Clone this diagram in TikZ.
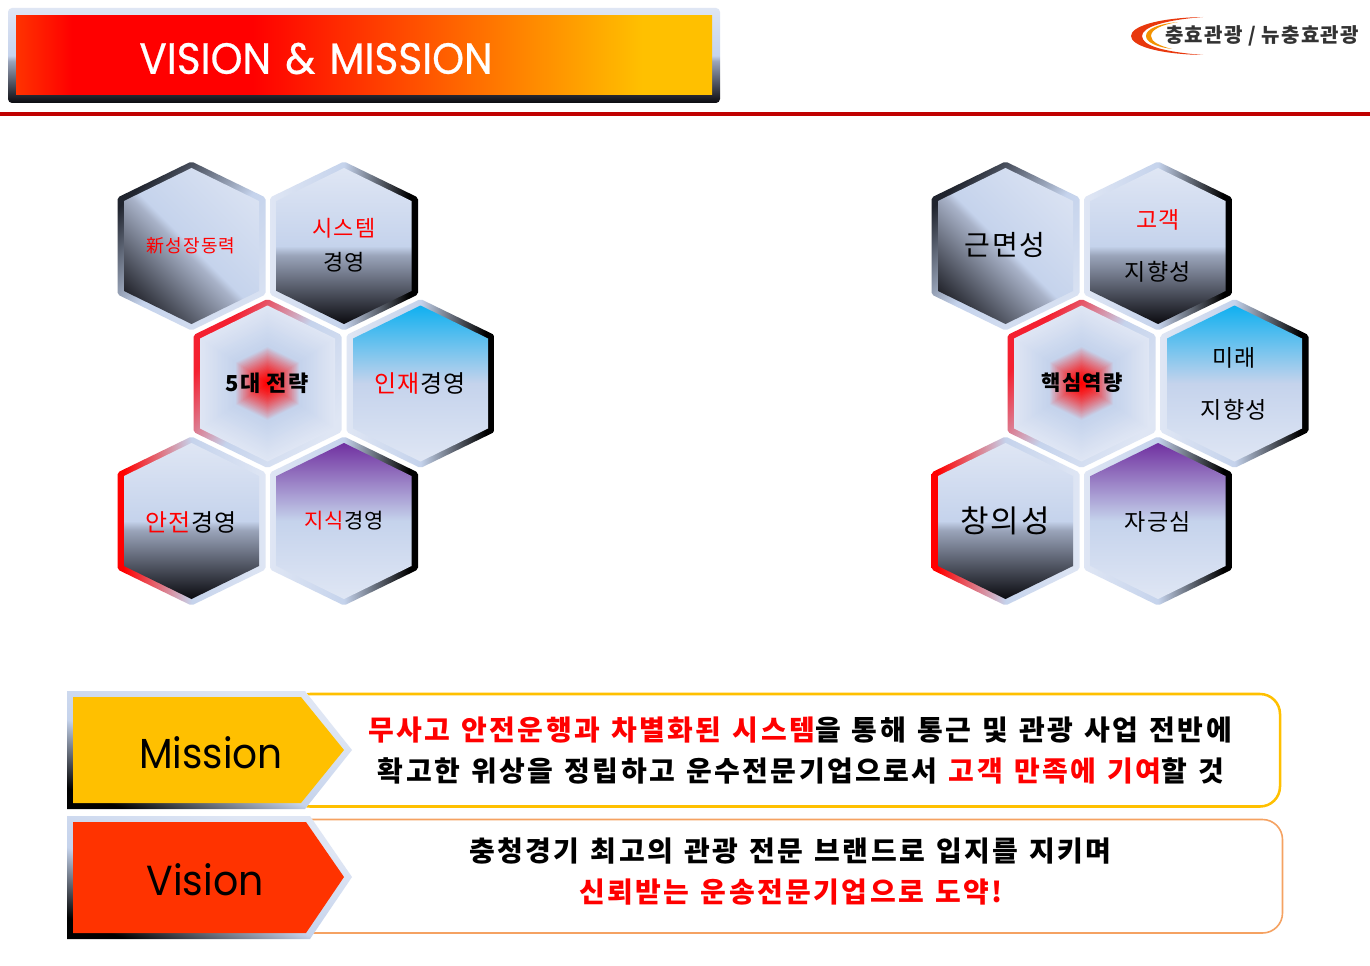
\documentclass[tikz,border=0pt]{standalone}
\usepackage{fontspec}
\setmainfont{Noto Sans CJK KR}
\newfontfamily\latinf{Poppins}
\newfontfamily\latinb[FakeBold=0.6]{Poppins}
\newfontfamily\krb[LetterSpace=8.7,WordSpace=1.27]{Noto Sans CJK KR}
\definecolor{hl}{HTML}{DFE6F4}
\definecolor{hm}{HTML}{C5D3EC}
\definecolor{hdk}{HTML}{0A0A0F}
\definecolor{hgr}{HTML}{9AA4BA}
\definecolor{hgs}{HTML}{A8B2C8}
\definecolor{hed}{HTML}{20242E}
\definecolor{sky}{HTML}{0FB0F0}
\definecolor{purp}{HTML}{7030A0}
\definecolor{rrd}{HTML}{FF0000}
\definecolor{rbd}{HTML}{F42030}
\definecolor{orr}{HTML}{FF3300}
\definecolor{gold}{HTML}{FFC000}
\definecolor{rule}{HTML}{C00000}
\definecolor{peach}{HTML}{F5A262}
\definecolor{logor}{HTML}{E8380D}
\definecolor{logoo}{HTML}{F39200}
\definecolor{logot}{HTML}{333333}
\pgfdeclareverticalshading{fdark}{100bp}{color(0bp)=(hdk); color(25bp)=(hdk); color(47bp)=(hgr); color(50bp)=(hm); color(75bp)=(hl); color(100bp)=(hl)}
\pgfdeclareverticalshading{fsky}{100bp}{color(0bp)=(hl); color(25bp)=(hl); color(50bp)=(hm); color(75bp)=(sky); color(100bp)=(sky)}
\pgfdeclareverticalshading{fpurp}{100bp}{color(0bp)=(hl); color(25bp)=(hl); color(50bp)=(hm); color(75bp)=(purp); color(100bp)=(purp)}
\pgfdeclarehorizontalshading{bright}{100bp}{color(0bp)=(hl); color(25bp)=(hl); color(50bp)=(hm); color(72bp)=(black); color(100bp)=(black)}
\pgfdeclarehorizontalshading{bred}{100bp}{color(0bp)=(rrd); color(27bp)=(rrd); color(50bp)=(hm); color(75bp)=(hl); color(100bp)=(hl)}
\pgfdeclarehorizontalshading{bredc}{100bp}{color(0bp)=(rbd); color(29bp)=(rbd); color(50bp)=(hm); color(75bp)=(hl); color(100bp)=(hl)}
\pgfdeclarehorizontalshading{bdark}{100bp}{color(0bp)=(hed); color(25bp)=(hed); color(52bp)=(hm); color(85bp)=(hl); color(100bp)=(hl)}
\pgfdeclarehorizontalshading{fdiag}{100bp}{color(0bp)=(black); color(18bp)=(hdk); color(47bp)=(hgs); color(50bp)=(hm); color(85bp)=(hl); color(100bp)=(hl)}
\pgfdeclarehorizontalshading{arrb}{100bp}{color(0bp)=(black); color(24bp)=(black); color(44bp)=(hm); color(70bp)=(hl); color(100bp)=(hl)}
\pgfdeclarehorizontalshading{headf}{100bp}{color(0bp)=(orr); color(25bp)=(orr); color(29bp)=(rrd); color(42bp)=(rrd); color(70bp)=(gold); color(100bp)=(gold)}
\tikzset{
  x=0.75pt,y=-0.75pt,
  every node/.style={inner sep=0pt,outer sep=0pt,align=center,text=black},
}
\newcommand\hexo{(0,-84.5)--(74,-48.5)--(74,48.5)--(0,84.5)--(-74,48.5)--(-74,-48.5)--cycle}
\newcommand\hexi{(0,-78)--(67.5,-45)--(67.5,45)--(0,78)--(-67.5,45)--(-67.5,-45)--cycle}
% #1 x, #2 y, #3 border shading, #4 border angle, #5 fill shading, #6 fill angle
\newcommand\hexa[6]{\begin{scope}[shift={(#1,#2)}]
  \shade[shading=#3,shading angle=#4,rounded corners=1.5pt] \hexo;
  \shade[shading=#5,shading angle=#6] \hexi;
\end{scope}}
\newcommand\hexc[4]{\begin{scope}[shift={(#1,#2)}]
  \shade[shading=#3,shading angle=#4,rounded corners=1.5pt] \hexo;
  \foreach \s in {100,98,...,50}{
    \pgfmathtruncatemacro\p{(100-\s)*2}
    \fill[color=hm!\p!hl,scale=\s/100] \hexi;}
  \foreach \s in {48,47,...,0}{
    \pgfmathtruncatemacro\p{100*(1-(\s/48)^1.4)}
    \fill[color=rrd!\p!hm,scale=\s/100] \hexi;}
\end{scope}}
\newcommand\hexset[1]{\begin{scope}[shift={(#1,0)}]
  \hexa{191.5}{246}{bdark}{-45}{fdiag}{45}
  \hexa{344}{246}{bright}{0}{fdark}{0}
  \hexc{267.5}{383.5}{bredc}{-35}
  \hexa{420.5}{383.5}{bright}{0}{fsky}{0}
  \hexa{191.5}{521}{bred}{0}{fdark}{0}
  \hexa{344}{521}{bright}{0}{fpurp}{0}
\end{scope}}
\newcommand\fsp[1]{\pgfmathsetmacro\fsz{#1*0.75}\fontsize{\fsz pt}{\fsz pt}\selectfont}
\newcommand\fs[1]{\fsp{#1}\addfontfeatures{LetterSpace=6}}
\newcommand\fsb[1]{\krb\bfseries\fsp{#1}}
\newcommand\rd[1]{\textcolor{red}{#1}}
\begin{document}
\begin{tikzpicture}
\useasboundingbox (0,0) rectangle (1370,966);
\fill[white] (0,0) rectangle (1370,966);
% header
\shade[shading=fdark,rounded corners=3pt] (8,8) rectangle (720,103);
\shade[shading=headf] (16,16) rectangle (712,95);
\fill[rule] (0,112) rectangle (1370,116);
\node[text=white] (title) at (316,58.5) {\scalebox{0.967}[1.04]{\latinb\fsp{42}VISION\hspace{0.35em}\&\hspace{0.35em}MISSION}};
% logo
\fill[logor] (1203,17) .. controls (1155,18) and (1131,27) .. (1131,36) .. controls (1131,45) and (1155,54) .. (1203,55) .. controls (1165,52) and (1142,46) .. (1142,36) .. controls (1142,27) and (1165,20) .. (1203,17) -- cycle;
\fill[logoo] (1178,22) .. controls (1158,24) and (1146,29) .. (1146,36) .. controls (1146,42) and (1156,47) .. (1172,49) .. controls (1160,46) and (1151,42) .. (1151,36) .. controls (1151,30) and (1160,25) .. (1178,22) -- cycle;
\node[text=logot] (logo) at (1262,36) {\fs{20}\bfseries 충효관광 / 뉴충효관광};
% hexagons
\hexset{0}
\hexset{814}
\node (a1) at (191,245.5) {\fs{18}\rd{新성장동력}};
\node (a2a) at (344,228) {\fs{22}\rd{시스템}};
\node (a2b) at (344,262) {\fs{22}경영};
\node (a3) at (267,383.5) {\fs{22}\bfseries 5대 전략};
\node (a4) at (420,384) {\fs{24}\rd{인재}경영};
\node (a5) at (191,522) {\fs{24}\rd{안전}경영};
\node (a6) at (344,521) {\fs{21}\rd{지식}경영};
\node (b1) at (1005,245) {\fs{28}근면성};
\node (b2a) at (1158,220) {\fs{23}\rd{고객}};
\node (b2b) at (1158,272) {\fs{23}지향성};
\node (b3) at (1082,383) {\fs{21}\bfseries 핵심역량};
\node (b4a) at (1234,358) {\fs{23}미래};
\node (b4b) at (1234,410) {\fs{23}지향성};
\node (b5) at (1005,521) {\fs{31}창의성};
\node (b6) at (1158,522) {\fs{23}자긍심};
% mission
\draw[gold,line width=1.9pt,rounded corners=15pt] (290,694) rectangle (1280,806.5);
\shade[shading=arrb,shading angle=70] (67,691)--(305,691)--(352,750)--(305,809)--(67,809)--cycle;
\fill[gold] (73,697)--(301,697)--(344,750)--(301,803)--(73,803)--cycle;
\node (m) at (211,753) {\scalebox{0.93}[1]{\latinf\fsp{42}Mission}};
\node (m1) at (800,730) {\fsb{28}\rd{무사고 안전운행과 차별화된 시스템}을 통해 통근 및 관광 사업 전반에};
\node (m2) at (801,771) {\fsb{28}확고한 위상을 정립하고 운수전문기업으로서 \rd{고객 만족에 기여}할 것};
% vision
\draw[peach,line width=1.2pt,rounded corners=15pt] (290,819.5) rectangle (1282.5,933);
\shade[shading=arrb,shading angle=70] (67,816)--(310,816)--(352,877)--(310,939)--(67,939)--cycle;
\fill[orr] (73,822)--(306,822)--(344,877)--(306,933)--(73,933)--cycle;
\node (v) at (205,880) {\scalebox{0.94}[1]{\latinf\fsp{42}Vision}};
\node (v1) at (790.5,851) {\fsb{28}충청경기 최고의 관광 전문 브랜드로 입지를 지키며};
\node (v2) at (791,892) {\fsb{28}\rd{신뢰받는 운송전문기업으로 도약!}};
\end{tikzpicture}
\end{document}
